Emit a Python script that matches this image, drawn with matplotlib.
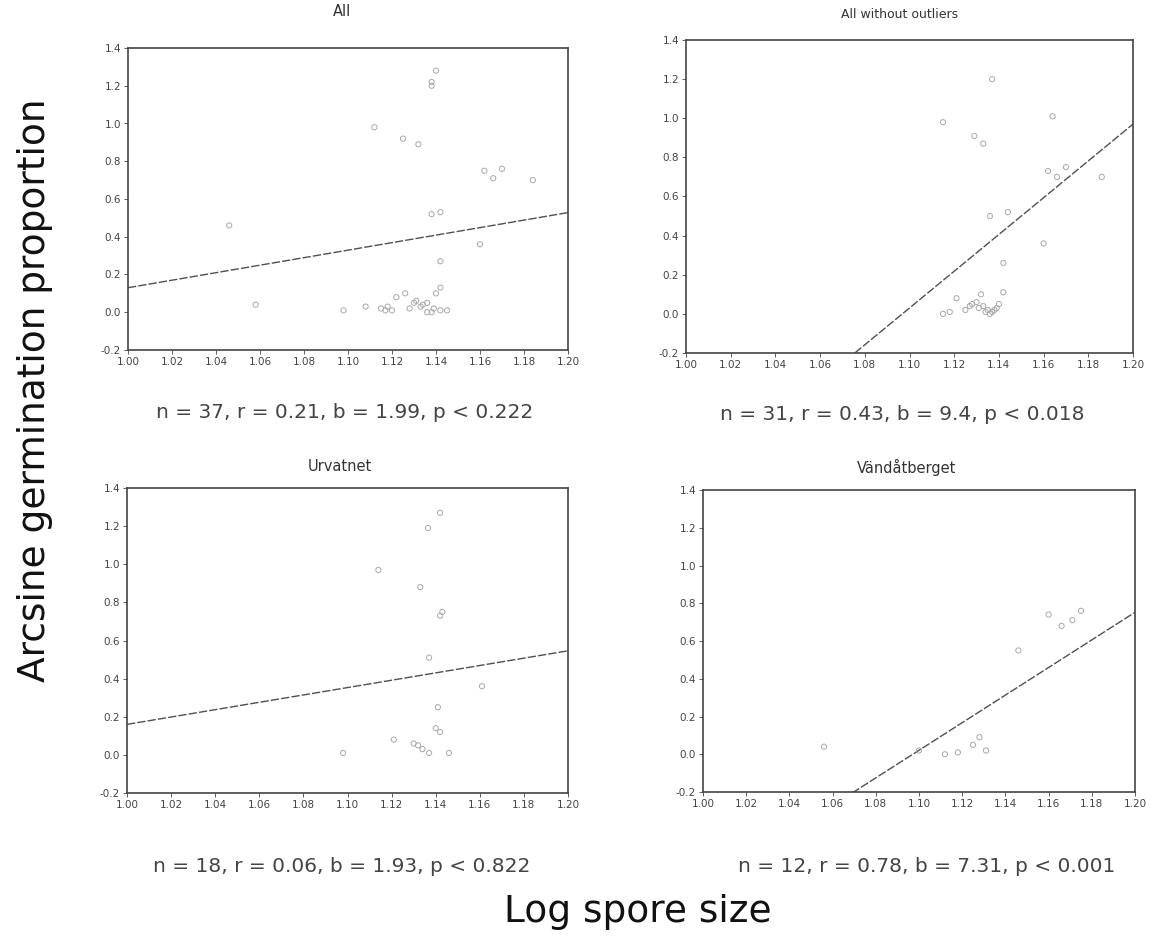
import matplotlib
matplotlib.use("Agg")
import matplotlib.pyplot as plt
import numpy as np

# log spore size vs arcsine germination proportion, one panel per subset
titles = ["All", "All without outliers", "Urvatnet", "Vändåtberget"]

x_all = [1.140, 1.138, 1.138, 1.112, 1.125, 1.132, 1.162, 1.166, 1.184, 1.138,
         1.142, 1.142, 1.142, 1.140, 1.108, 1.115, 1.118, 1.122, 1.126, 1.130,
         1.128, 1.133, 1.136, 1.138, 1.142, 1.145, 1.046, 1.058, 1.160, 1.136,
         1.120, 1.131, 1.134, 1.139, 1.117, 1.170, 1.098]
y_all = [1.28, 1.22, 1.20, 0.98, 0.92, 0.89, 0.75, 0.71, 0.70, 0.52,
         0.53, 0.27, 0.13, 0.10, 0.03, 0.02, 0.03, 0.08, 0.10, 0.05,
         0.02, 0.03, 0.00, 0.00, 0.01, 0.01, 0.46, 0.04, 0.36, 0.05,
         0.01, 0.06, 0.04, 0.02, 0.01, 0.76, 0.01]

x_noout = [1.137, 1.115, 1.164, 1.129, 1.133, 1.162, 1.166, 1.186, 1.136, 1.144,
           1.160, 1.142, 1.142, 1.128, 1.131, 1.133, 1.135, 1.137, 1.139, 1.115,
           1.121, 1.125, 1.130, 1.134, 1.136, 1.138, 1.140, 1.118, 1.170, 1.132,
           1.127]
y_noout = [1.20, 0.98, 1.01, 0.91, 0.87, 0.73, 0.70, 0.70, 0.50, 0.52,
           0.36, 0.26, 0.11, 0.05, 0.03, 0.04, 0.02, 0.01, 0.03, 0.00,
           0.08, 0.02, 0.06, 0.01, 0.00, 0.02, 0.05, 0.01, 0.75, 0.10,
           0.04]

x_urv = [1.142, 1.1365, 1.114, 1.133, 1.142, 1.137, 1.161, 1.141, 1.142,
         1.121, 1.132, 1.137, 1.146, 1.098, 1.130, 1.134, 1.143, 1.140]
y_urv = [1.27, 1.19, 0.97, 0.88, 0.73, 0.51, 0.36, 0.25, 0.12,
         0.08, 0.05, 0.01, 0.01, 0.01, 0.06, 0.03, 0.75, 0.14]

x_van = [1.171, 1.166, 1.146, 1.128, 1.131, 1.118, 1.056, 1.100, 1.112, 1.125, 1.160, 1.175]
y_van = [0.71, 0.68, 0.55, 0.09, 0.02, 0.01, 0.04, 0.02, 0.00, 0.05, 0.74, 0.76]

# regression intercepts and slopes, stats printed under each panel
intercepts = [-1.86, -10.31, -1.77, -8.02]
slopes = [1.99, 9.4, 1.93, 7.31]
stats = ["n = 37, r = 0.21, b = 1.99, p < 0.222",
         "n = 31, r = 0.43, b = 9.4, p < 0.018",
         "n = 18, r = 0.06, b = 1.93, p < 0.822",
         "n = 12, r = 0.78, b = 7.31, p < 0.001"]

xs = [x_all, x_noout, x_urv, x_van]
ys = [y_all, y_noout, y_urv, y_van]

xticks = np.round(np.arange(1.00, 1.201, 0.02), 2)
yticks = np.round(np.arange(-0.2, 1.41, 0.2), 1)

fig = plt.figure(figsize=(11.63, 9.47), dpi=100)
W, H = 1163, 947
# panel boxes in pixels: left, top, right, bottom
boxes = [(128, 48, 568, 350), (686, 40, 1133, 353),
         (127, 488, 568, 793), (703, 490, 1135, 792)]
title_pos = [(342, 12), (900, 15), (340, 466), (907, 467)]
title_size = [10.5, 9, 10.5, 10.5]
stat_pos = [(345, 412), (902, 414), (342, 866), (927, 866)]

for i in range(4):
    l, t, r, b = boxes[i]
    ax = fig.add_axes([l / W, 1 - b / H, (r - l) / W, (b - t) / H])
    ax.scatter(xs[i], ys[i], s=14, facecolors="none", edgecolors="#a8a8a8", linewidths=0.7, zorder=3)
    xl = np.array([1.0, 1.2])
    ax.plot(xl, intercepts[i] + slopes[i] * xl, color="#505050", lw=1.0, ls=(0, (6, 1.5)))
    ax.set_xlim(1.0, 1.2)
    ax.set_ylim(-0.2, 1.4)
    ax.set_xticks(xticks)
    ax.set_xticklabels([f"{v:.2f}" for v in xticks])
    ax.set_yticks(yticks)
    ax.set_yticklabels([f"{v:.1f}" for v in yticks])
    ax.tick_params(labelsize=7.5, length=3, width=0.6, colors="#444444", pad=2)
    for sp in ax.spines.values():
        sp.set_color("#444444")
        sp.set_linewidth(1.2)
    fig.text(title_pos[i][0] / W, 1 - title_pos[i][1] / H, titles[i], ha="center", va="center",
             fontsize=title_size[i], color="#333333")
    fig.text(stat_pos[i][0] / W, 1 - stat_pos[i][1] / H, stats[i], ha="center", va="center",
             fontsize=14.5, color="#444444")

fig.text(35 / W, 1 - 390 / H, "Arcsine germination proportion", rotation=90,
         ha="center", va="center", fontsize=27, color="#111111")
fig.text(638 / W, 1 - 912 / H, "Log spore size", ha="center", va="center",
         fontsize=27, color="#111111")

fig.savefig("out.png", dpi=100, facecolor="white")
